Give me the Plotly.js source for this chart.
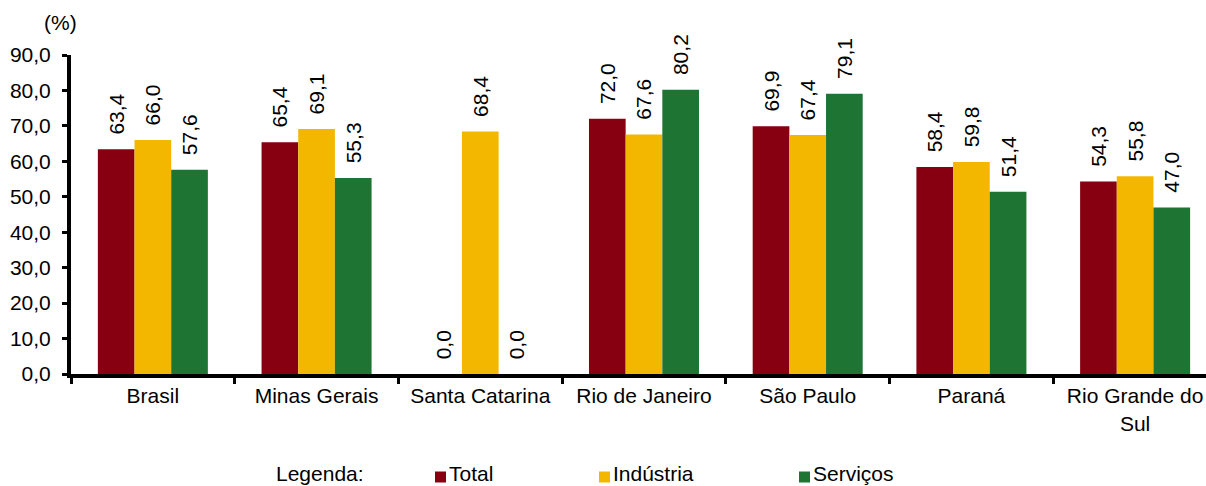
<!DOCTYPE html>
<html>
<head>
<meta charset="utf-8">
<script src="https://cdn.plot.ly/plotly-3.0.1.min.js"></script>
<style>
  html, body { margin: 0; padding: 0; background: #ffffff; }
  #chart { width: 1206px; height: 486px; }
</style>
</head>
<body>
<div id="chart"></div>
<script>
// Unidades da federação
const categories = ["Brasil", "Minas Gerais", "Santa Catarina", "Rio de Janeiro", "São Paulo", "Paraná", "Rio Grande do<br>Sul"];

// Percentuais por setor
const total     = [63.4, 65.4, 0.0, 72.0, 69.9, 58.4, 54.3];
const industria = [66.0, 69.1, 68.4, 67.6, 67.4, 59.8, 55.8];
const servicos  = [57.6, 55.3, 0.0, 80.2, 79.1, 51.4, 47.0];

const seriesNames = ["Total", "Indústria", "Serviços"];
const seriesColors = ["#870012", "#F3B700", "#1E7433"];

const FONT = "Liberation Sans, Arial, sans-serif";
const FS = 21;
const W = 1206, H = 486;
const M = { l: 71, r: 0, t: 55, b: 112 };
const plotW = W - M.l - M.r;
const plotH = H - M.t - M.b;

// pixel -> paper helpers for the hand-placed legend
const px = (x) => (x - M.l) / plotW;
const py = (y) => (H - M.b - y) / plotH;

// leading no-break spaces lift the value labels off the bar tops
const PAD = "\u00a0\u00a0";

function barTrace(name, values, color) {
  return {
    type: "bar",
    name: name,
    x: categories,
    y: values,
    marker: { color: color, line: { width: 0 } },
    texttemplate: PAD + "%{y:.1f}",
    textposition: "outside",
    textangle: -90,
    constraintext: "none",
    textfont: { family: FONT, size: FS, color: "#000000" },
    cliponaxis: false,
    showlegend: false,
    hoverinfo: "x+y"
  };
}

const data = [
  barTrace(seriesNames[0], total, seriesColors[0]),
  barTrace(seriesNames[1], industria, seriesColors[1]),
  barTrace(seriesNames[2], servicos, seriesColors[2])
];

// legend: swatch left edges and text starts (px)
const legendSwatchX = [435, 599, 799];
const legendTextX = [450, 614, 814];
const legendSwatchY = 477;
const legendTextY = 473.5;

const shapes = [];
const annotations = [
  {
    text: "(%)",
    xref: "paper", yref: "paper",
    x: px(60), y: py(23),
    xanchor: "center", yanchor: "middle",
    showarrow: false,
    font: { family: FONT, size: FS, color: "#000000" }
  },
  {
    text: "Legenda:",
    xref: "paper", yref: "paper",
    x: px(319.5), y: py(legendTextY),
    xanchor: "center", yanchor: "middle",
    showarrow: false,
    font: { family: FONT, size: FS, color: "#000000" }
  }
];

seriesNames.forEach((name, i) => {
  shapes.push({
    type: "rect",
    xref: "paper", yref: "paper",
    x0: px(legendSwatchX[i]), x1: px(legendSwatchX[i] + 11),
    y0: py(legendSwatchY - 5.5), y1: py(legendSwatchY + 5.5),
    fillcolor: seriesColors[i],
    line: { width: 0 }
  });
  annotations.push({
    text: name,
    xref: "paper", yref: "paper",
    x: px(legendTextX[i] - 3), y: py(legendTextY),
    xanchor: "left", yanchor: "middle",
    showarrow: false,
    font: { family: FONT, size: FS, color: "#000000" }
  });
});

const layout = {
  width: W,
  height: H,
  margin: { l: M.l, r: M.r, t: M.t, b: M.b, autoexpand: false },
  paper_bgcolor: "#ffffff",
  plot_bgcolor: "#ffffff",
  separators: ",.",
  font: { family: FONT, size: FS, color: "#000000" },
  barmode: "group",
  bargap: 0.328,
  bargroupgap: 0,
  showlegend: false,
  xaxis: {
    type: "category",
    range: [-0.5, 6.433],
    showline: true,
    linecolor: "#000000",
    linewidth: 4,
    ticks: "outside",
    tickson: "boundaries",
    ticklen: 6,
    tickwidth: 3,
    tickcolor: "#000000",
    showgrid: false,
    zeroline: false,
    tickfont: { family: FONT, size: FS, color: "#000000" },
    fixedrange: true
  },
  yaxis: {
    range: [0, 90],
    dtick: 10,
    tick0: 0,
    tickformat: ".1f",
    showline: true,
    linecolor: "#000000",
    linewidth: 4,
    ticks: "outside",
    ticklen: 5,
    tickwidth: 3,
    tickcolor: "#000000",
    ticklabelstandoff: 7,
    showgrid: false,
    zeroline: false,
    tickfont: { family: FONT, size: FS, color: "#000000" },
    fixedrange: true
  },
  shapes: shapes,
  annotations: annotations
};

Plotly.newPlot("chart", data, layout, { displayModeBar: false, staticPlot: true });
</script>
</body>
</html>
